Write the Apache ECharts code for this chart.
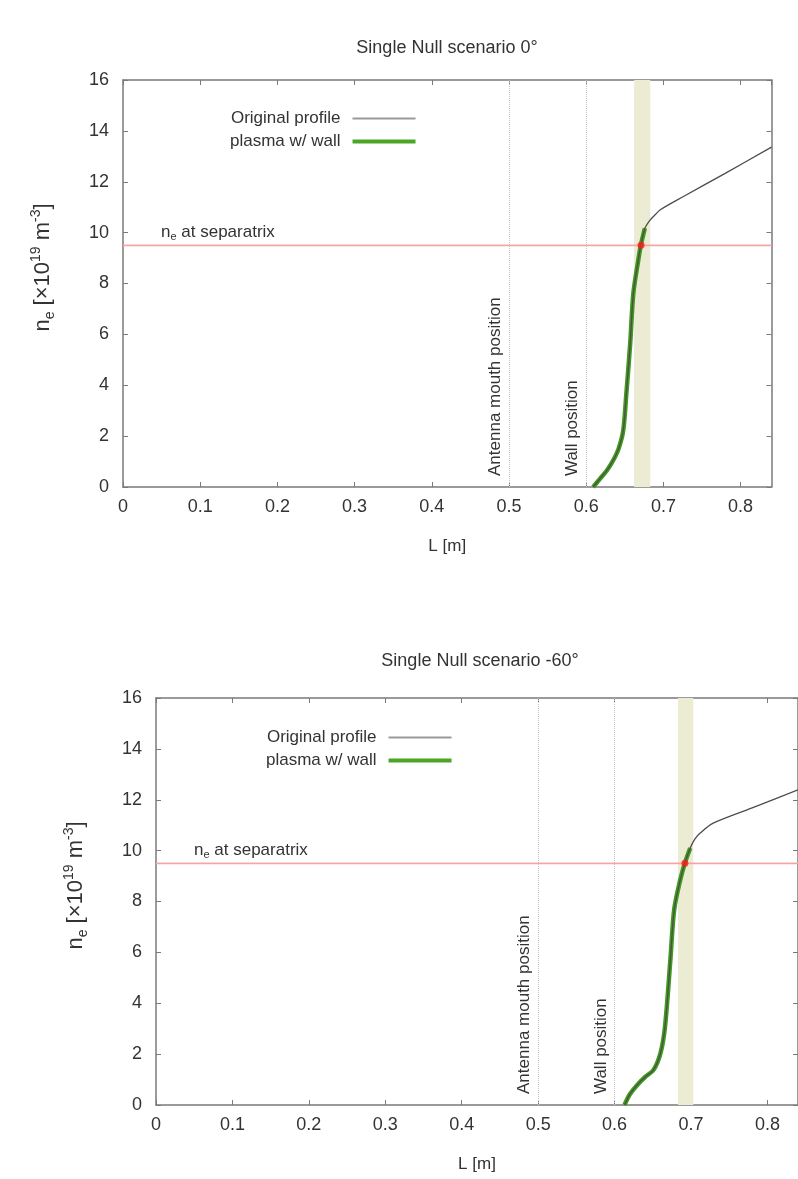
<!DOCTYPE html>
<html><head><meta charset="utf-8">
<script src="https://cdn.jsdelivr.net/npm/echarts@6/dist/echarts.min.js"></script>
<style>html,body{margin:0;padding:0;background:#fff}#c{width:798px;height:1179px}</style>
</head><body><div id="c"></div>
<script>
// ---- data ----
const titles = ['Single Null scenario 0\u00B0', 'Single Null scenario -60\u00B0'];
const seriesNames = ['Original profile', 'plasma w/ wall'];
const markerLabels = ['Antenna mouth position', 'Wall position'];
const markerL = [0.5, 0.6];
const separatrixNe = 9.5;

// top chart (0 deg)
const topProfileL  = [0.609,0.618,0.627,0.635,0.642,0.648,0.652,0.657,0.661,0.6675,0.671,0.676,0.683,0.690,0.696,0.726,0.78,0.84];
const topProfileNe = [0,0.33,0.66,1.05,1.51,2.23,3.68,5.65,7.6,8.93,9.54,10.17,10.5,10.72,10.9,11.42,12.33,13.36];
const topWallL  = [0.609,0.618,0.627,0.635,0.642,0.648,0.652,0.657,0.661,0.6675,0.671,0.676];
const topWallNe = [0,0.33,0.66,1.05,1.51,2.23,3.68,5.65,7.6,8.93,9.54,10.17];
const topBand = [0.662, 0.683];
const topSepL = 0.671;

// bottom chart (-60 deg)
const botProfileL  = [0.613,0.62,0.63,0.64,0.651,0.660,0.666,0.673,0.678,0.686,0.692,0.699,0.705,0.712,0.729,0.78,0.84];
const botProfileNe = [0,0.42,0.8,1.1,1.38,2.03,3.08,5.7,7.68,8.86,9.51,10.1,10.45,10.69,11.08,11.68,12.39];
const botWallL  = [0.613,0.62,0.63,0.64,0.651,0.660,0.666,0.673,0.678,0.686,0.692,0.699];
const botWallNe = [0,0.42,0.8,1.1,1.38,2.03,3.08,5.7,7.68,8.86,9.51,10.1];
const botBand = [0.683, 0.703];
const botSepL = 0.692;

// axes
const xMin = 0, xMax = 0.84, xStep = 0.1;
const yMin = 0, yMax = 16, yStep = 2;

// ---- styling ----
const FONT = 'Liberation Sans, Arial, Helvetica, sans-serif';
const TXT = '#333';
const FRAME = '#7a7a7a';
const SEP = '#f7a4a4';
const zip = (a, b) => a.map((v, i) => [v, b[i]]);

function xAxisPair(gi) {
  const base = {
    type: 'value', gridIndex: gi, min: xMin, max: xMax, interval: xStep,
    axisLine: { show: true, onZero: false, lineStyle: { color: FRAME, width: 1.5 } },
    axisTick: { show: true, inside: true, length: 5, lineStyle: { color: FRAME, width: 1 } },
    splitLine: { show: false }
  };
  return [
    Object.assign({}, base, {
      position: 'bottom',
      axisLabel: { margin: 11, fontSize: 18, color: TXT, fontFamily: FONT, showMaxLabel: false,
        formatter: v => (v === 0 ? '0' : (+v).toFixed(1)) },
      name: 'L [m]', nameLocation: 'middle', nameGap: 51,
      nameTextStyle: { fontSize: 17, color: TXT, fontFamily: FONT }
    }),
    Object.assign({}, base, { position: 'top', axisLabel: { show: false } })
  ];
}
function yAxisPair(gi) {
  const base = {
    type: 'value', gridIndex: gi, min: yMin, max: yMax, interval: yStep,
    axisLine: { show: true, onZero: false, lineStyle: { color: FRAME, width: 1.5 } },
    axisTick: { show: true, inside: true, length: 5, lineStyle: { color: FRAME, width: 1 } },
    splitLine: { show: false }
  };
  return [
    Object.assign({}, base, {
      position: 'left',
      axisLabel: { margin: 14, fontSize: 18, color: TXT, fontFamily: FONT },
      name: '{n|n}{s|e}{n| [\u00D710}{p|19}{n| m}{p|-3}{n|]}',
      nameLocation: 'middle', nameGap: 66, nameRotate: 90,
      nameTextStyle: {
        color: TXT, fontFamily: FONT, padding: [0, 0, 0, 32],
        rich: {
          n: { fontSize: 22, color: TXT, fontFamily: FONT, lineHeight: 28 },
          s: { fontSize: 14, color: TXT, fontFamily: FONT, verticalAlign: 'bottom', lineHeight: 16 },
          p: { fontSize: 14, color: TXT, fontFamily: FONT, verticalAlign: 'top', lineHeight: 14 }
        }
      }
    }),
    Object.assign({}, base, { position: 'right', axisLabel: { show: false } })
  ];
}

function chartSeries(ai, profL, profNe, wallL, wallNe, band, sepL) {
  return [
    {
      name: 'separatrix', type: 'line', xAxisIndex: ai, yAxisIndex: ai,
      data: [[xMin, separatrixNe], [xMax, separatrixNe]], symbol: 'none', z: 2,
      lineStyle: { color: SEP, width: 1.3 }, itemStyle: { color: SEP },
      animation: false, silent: true,
      markLine: {
        silent: true, z: 2, symbol: ['none', 'none'], animation: false,
        lineStyle: { color: SEP, width: 1.3, type: 'solid' },
        label: { show: true, position: 'insideStartTop', distance: [38, 3],
          formatter: '{a|n}{b|e}{a| at separatrix}',
          rich: { a: { fontSize: 17, color: TXT, fontFamily: FONT, lineHeight: 20 },
                  b: { fontSize: 11, color: TXT, fontFamily: FONT, verticalAlign: 'bottom', lineHeight: 12 } } },
        data: [{ yAxis: separatrixNe }]
      }
    },
    {
      name: seriesNames[1], type: 'line', xAxisIndex: ai, yAxisIndex: ai,
      data: zip(wallL, wallNe), symbol: 'none', smooth: 0.3, z: 3,
      lineStyle: { color: '#3f9c1d', width: 4.5 }, itemStyle: { color: '#3f9c1d' },
      animation: false
    },
    {
      name: seriesNames[0], type: 'line', xAxisIndex: ai, yAxisIndex: ai,
      data: zip(profL, profNe), symbol: 'none', smooth: 0.3, z: 4,
      lineStyle: { color: '#4d4d4d', width: 1.3 }, itemStyle: { color: '#4d4d4d' },
      animation: false,
      markArea: {
        silent: true, z: 1,
        itemStyle: { color: '#ecebd4' },
        data: [[{ xAxis: band[0] }, { xAxis: band[1] }]]
      },
      markLine: {
        silent: true, z: 2, symbol: ['none', 'none'], animation: false,
        lineStyle: { color: '#c4c4c4', width: 1, type: 'dotted' },
        label: { show: true, position: 'insideStartTop', distance: [11, 5],
          fontSize: 17, color: TXT, fontFamily: FONT },
        data: [
          { xAxis: markerL[0], label: { formatter: markerLabels[0] } },
          { xAxis: markerL[1], label: { formatter: markerLabels[1] } }
        ]
      }
    },
    {
      name: 'sep', type: 'scatter', xAxisIndex: ai, yAxisIndex: ai,
      data: [[sepL, separatrixNe]], symbolSize: 7, z: 6,
      itemStyle: { color: '#ff1a1a' }, animation: false
    }
  ];
}

function legendFor(left, top) {
  return {
    orient: 'vertical', left: left, top: top, align: 'right',
    itemWidth: 63, itemHeight: 14, itemGap: 6, selectedMode: false,
    itemStyle: { opacity: 0 },
    data: [
      { name: seriesNames[0], lineStyle: { color: '#9a9a9a', width: 2.2 } },
      { name: seriesNames[1], lineStyle: { color: '#4ca626', width: 4 } }
    ],
    formatter: n => '{r|' + n + '}',
    textStyle: { fontSize: 17, color: TXT, fontFamily: FONT,
      rich: { r: { width: 130, align: 'right', padding: [0, 7, 0, 0], fontSize: 17, color: TXT, fontFamily: FONT } } }
  };
}

const chart = echarts.init(document.getElementById('c'), null, { renderer: 'canvas' });
chart.setOption({
  backgroundColor: '#fff',
  animation: false,
  graphic: [
    { type: 'text', x: 447, y: 48, style: { text: titles[0], fontSize: 18, fill: TXT, fontFamily: FONT, align: 'center', verticalAlign: 'middle' } },
    { type: 'text', x: 480, y: 661, style: { text: titles[1], fontSize: 18, fill: TXT, fontFamily: FONT, align: 'center', verticalAlign: 'middle' } }
  ],
  grid: [
    { left: 123, top: 80, right: 26.5, height: 407, containLabel: false },
    { left: 156, top: 698, right: -4, height: 407, containLabel: false }
  ],
  legend: [legendFor(225, 105), legendFor(261, 724)],
  xAxis: [].concat(xAxisPair(0), xAxisPair(1)),
  yAxis: [].concat(yAxisPair(0), yAxisPair(1)),
  series: [].concat(
    chartSeries(0, topProfileL, topProfileNe, topWallL, topWallNe, topBand, topSepL),
    chartSeries(2, botProfileL, botProfileNe, botWallL, botWallNe, botBand, botSepL)
  )
});
</script>
</body></html>
